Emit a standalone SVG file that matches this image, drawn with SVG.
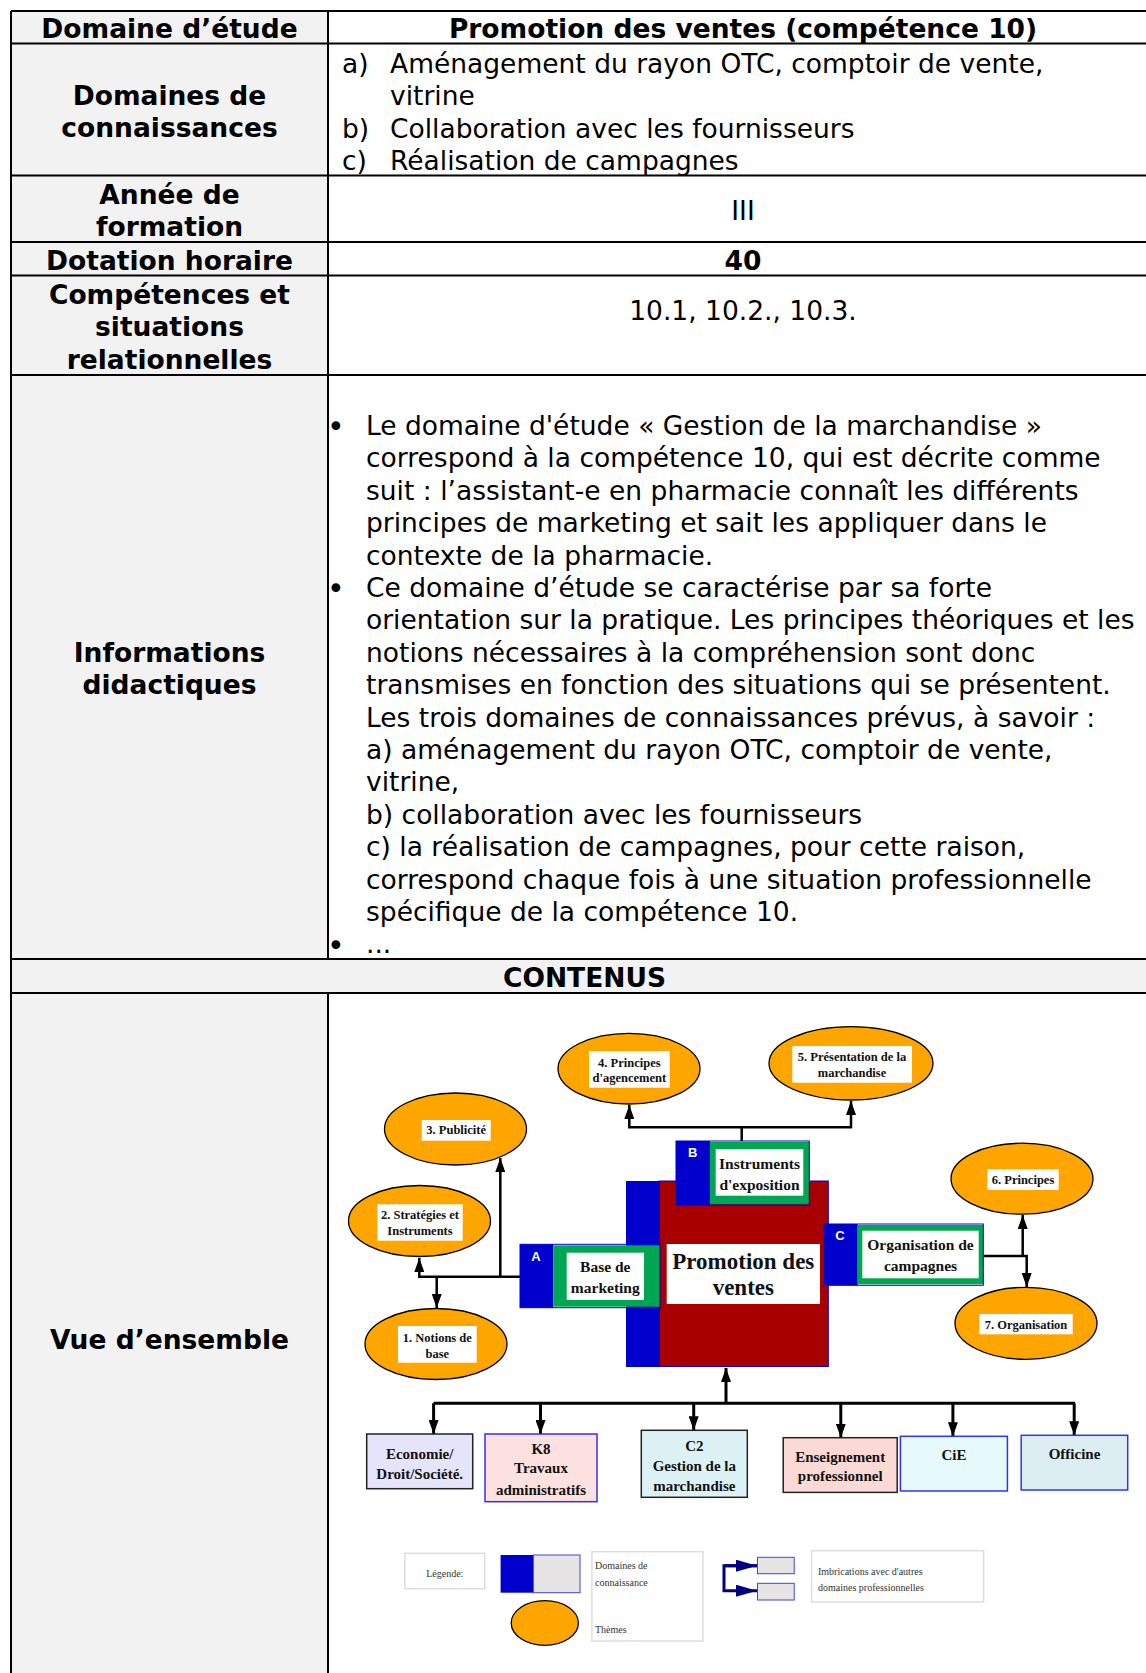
<svg xmlns="http://www.w3.org/2000/svg" width="1146" height="1673" viewBox="0 0 1146 1673">
<style>
.h{font-family:"DejaVu Sans",Verdana,sans-serif;font-size:26.5px;font-weight:bold;text-anchor:middle;fill:#000}
.t{font-family:"DejaVu Sans",Verdana,sans-serif;font-size:26.5px;fill:#000}
.tc{font-family:"DejaVu Sans",Verdana,sans-serif;font-size:26.5px;fill:#000;text-anchor:middle}
.bul{font-family:"DejaVu Sans",sans-serif;font-size:30px;fill:#000}
.grid{stroke:#000;stroke-width:2;fill:none}
.el{fill:#ffa500;stroke:#000;stroke-width:1.3}
.wb{fill:#fff}
.et{font-family:"Liberation Serif","Times New Roman",serif;font-weight:bold;font-size:12.5px;text-anchor:middle;fill:#111}
.bt{font-family:"Liberation Serif","Times New Roman",serif;font-weight:bold;font-size:15.5px;text-anchor:middle;fill:#111}
.ct{font-family:"Liberation Serif","Times New Roman",serif;font-weight:bold;font-size:23px;text-anchor:middle;fill:#111}
.ltr{font-family:"Liberation Sans",Arial,sans-serif;font-weight:bold;font-size:13px;text-anchor:middle;fill:#fff}
.blue{fill:#0000cc}
.green{fill:#00a651}
.conn{stroke:#000;stroke-width:2.5;fill:none}
.bus{stroke:#000;stroke-width:3;fill:none}
.ob{font-family:"Liberation Serif","Times New Roman",serif;font-weight:bold;font-size:15px;text-anchor:middle;fill:#111}
.lg{font-family:"Liberation Serif","Times New Roman",serif;font-size:10px;fill:#333}
.lbox{fill:#fff;stroke:#ddd;stroke-width:1.5}
</style>
<defs>
<marker id="ah" markerUnits="userSpaceOnUse" markerWidth="15" markerHeight="10" refX="14" refY="5" orient="auto">
<path d="M0,0 L14,5 L0,10 z" fill="#000"/>
</marker>
<marker id="ahn" markerUnits="userSpaceOnUse" markerWidth="22" markerHeight="12" refX="21" refY="6" orient="auto">
<path d="M0,0 L21,6 L0,12 z" fill="#000080"/>
</marker>
</defs>

<g id="table">
<rect x="11" y="11" width="317" height="948" fill="#f2f2f2"/>
<rect x="11" y="959" width="1135" height="34" fill="#f2f2f2"/>
<rect x="11" y="993" width="317" height="680" fill="#f2f2f2"/>
<path class="grid" d="M11,11 H1146 M11,43.5 H1146 M11,175.5 H1146 M11,242 H1146 M11,275.5 H1146 M11,375 H1146 M11,959 H1146 M11,993 H1146 M11,11 V1673 M328,11 V959 M328,993 V1673"/>
</g>

<g id="row-domaine">
<text class="h" x="169.5" y="38">Domaine d’étude</text>
<text class="h" x="743" y="38">Promotion des ventes (compétence 10)</text>
</g>

<g id="row-connaissances">
<text class="h" x="169.5" y="105">Domaines de</text>
<text class="h" x="169.5" y="137">connaissances</text>
<text class="t" x="342" y="73">a)</text>
<text class="t" x="390" y="73">Aménagement du rayon OTC, comptoir de vente,</text>
<text class="t" x="390" y="105.4">vitrine</text>
<text class="t" x="342" y="137.8">b)</text>
<text class="t" x="390" y="137.8">Collaboration avec les fournisseurs</text>
<text class="t" x="342" y="170.2">c)</text>
<text class="t" x="390" y="170.2">Réalisation de campagnes</text>
</g>

<g id="row-annee">
<text class="h" x="169.5" y="203.5">Année de</text>
<text class="h" x="169.5" y="235.5">formation</text>
<text class="tc" x="743" y="219.5">III</text>
</g>

<g id="row-dotation">
<text class="h" x="169.5" y="269.5">Dotation horaire</text>
<text class="h" x="743" y="269.5">40</text>
</g>

<g id="row-competences">
<text class="h" x="169.5" y="304">Compétences et</text>
<text class="h" x="169.5" y="336">situations</text>
<text class="h" x="169.5" y="368.5">relationnelles</text>
<text class="tc" x="743" y="320">10.1, 10.2., 10.3.</text>
</g>

<g id="row-informations">
<text class="h" x="169.5" y="662">Informations</text>
<text class="h" x="169.5" y="694">didactiques</text>
<text class="bul" x="327" y="436.5">•</text>
<text class="t" x="366" y="435">Le domaine d'étude « Gestion de la marchandise »</text>
<text class="t" x="366" y="467.4">correspond à la compétence 10, qui est décrite comme</text>
<text class="t" x="366" y="499.8">suit : l’assistant-e en pharmacie connaît les différents</text>
<text class="t" x="366" y="532.2">principes de marketing et sait les appliquer dans le</text>
<text class="t" x="366" y="564.6">contexte de la pharmacie.</text>
<text class="bul" x="327" y="599">•</text>
<text class="t" x="366" y="597">Ce domaine d’étude se caractérise par sa forte</text>
<text class="t" x="366" y="629.4">orientation sur la pratique. Les principes théoriques et les</text>
<text class="t" x="366" y="661.8">notions nécessaires à la compréhension sont donc</text>
<text class="t" x="366" y="694.2">transmises en fonction des situations qui se présentent.</text>
<text class="t" x="366" y="726.6">Les trois domaines de connaissances prévus, à savoir :</text>
<text class="t" x="366" y="759">a) aménagement du rayon OTC, comptoir de vente,</text>
<text class="t" x="366" y="791.4">vitrine,</text>
<text class="t" x="366" y="823.8">b) collaboration avec les fournisseurs</text>
<text class="t" x="366" y="856.2">c) la réalisation de campagnes, pour cette raison,</text>
<text class="t" x="366" y="888.6">correspond chaque fois à une situation professionnelle</text>
<text class="t" x="366" y="921">spécifique de la compétence 10.</text>
<text class="bul" x="327" y="956">•</text>
<text class="t" x="366" y="953">...</text>
</g>

<g id="row-contenus">
<text class="h" x="584.5" y="986.5">CONTENUS</text>
</g>

<g id="row-vue">
<text class="h" x="169.5" y="1348.5">Vue d’ensemble</text>
</g>

<g id="connectors">
<path class="conn" d="M520,1276.7 H419.3 V1258" marker-end="url(#ah)"/>
<path class="conn" d="M436.7,1276.7 V1308" marker-end="url(#ah)"/>
<path class="conn" d="M500.3,1276.7 V1158" marker-end="url(#ah)"/>
<path class="conn" d="M741.7,1141 V1127.3 H629.3 V1105" marker-end="url(#ah)"/>
<path class="conn" d="M741.7,1127.3 H851 V1101" marker-end="url(#ah)"/>
<path class="conn" d="M983.3,1256 H1026.7 V1287" marker-end="url(#ah)"/>
<path class="conn" d="M1022.7,1256 V1215" marker-end="url(#ah)"/>
<path class="bus" d="M726,1403.3 V1368" marker-end="url(#ah)"/>
<path class="bus" d="M433.6,1403.3 H1075"/>
<path class="bus" d="M433.6,1403.3 V1434" marker-end="url(#ah)"/>
<path class="bus" d="M540.5,1403.3 V1434" marker-end="url(#ah)"/>
<path class="bus" d="M693.7,1403.3 V1430.3" marker-end="url(#ah)"/>
<path class="bus" d="M840.8,1403.3 V1437.7" marker-end="url(#ah)"/>
<path class="bus" d="M952.9,1403.3 V1436.3" marker-end="url(#ah)"/>
<path class="bus" d="M1074.2,1403.3 V1435.3" marker-end="url(#ah)"/>
</g>

<g id="central">
<rect class="blue" x="626" y="1181" width="34" height="186"/>
<rect x="659.3" y="1181" width="169" height="185.5" fill="#a80000" stroke="#0000cc" stroke-width="1"/>
<rect class="wb" x="666.7" y="1244" width="153.3" height="60"/>
<text class="ct" x="743.3" y="1269.3">Promotion des</text>
<text class="ct" x="743.3" y="1295">ventes</text>
</g>

<g id="box-a">
<rect class="blue" x="520" y="1244.3" width="33.3" height="63.4"/>
<rect class="green" x="553.3" y="1245.3" width="106.7" height="61.4"/>
<rect x="520" y="1244.3" width="140" height="63.4" fill="none" stroke="#0000cc" stroke-width="1"/>
<rect class="wb" x="566.7" y="1252.7" width="77.3" height="47.3"/>
<text class="ltr" x="536" y="1261">A</text>
<text class="bt" x="605.3" y="1272.3">Base de</text>
<text class="bt" x="605.3" y="1293.3">marketing</text>
</g>

<g id="box-b">
<rect class="blue" x="676" y="1141" width="34" height="64"/>
<rect class="green" x="710" y="1142" width="99.3" height="62.3"/>
<rect x="676" y="1141" width="133.3" height="64" fill="none" stroke="#0000cc" stroke-width="1"/>
<rect class="wb" x="715.7" y="1149" width="87.6" height="46.7"/>
<text class="ltr" x="692.7" y="1156.5">B</text>
<text class="bt" x="759.5" y="1169.3">Instruments</text>
<text class="bt" x="759.5" y="1190">d'exposition</text>
</g>

<g id="box-c">
<rect class="blue" x="824.3" y="1224" width="33.4" height="61.3"/>
<rect class="green" x="857.7" y="1225" width="125.6" height="59.3"/>
<rect x="824.3" y="1224" width="159" height="61.3" fill="none" stroke="#0000cc" stroke-width="1"/>
<rect class="wb" x="862.3" y="1230.7" width="116.4" height="47.6"/>
<text class="ltr" x="840" y="1240">C</text>
<text class="bt" x="920.5" y="1250">Organisation de</text>
<text class="bt" x="920.5" y="1270.7">campagnes</text>
</g>

<g id="theme-1">
<ellipse class="el" cx="436" cy="1344" rx="71" ry="35.5"/>
<rect class="wb" x="398" y="1326" width="78.7" height="36.7"/>
<text class="et" x="437.3" y="1342.3">1. Notions de</text>
<text class="et" x="437.3" y="1357.7">base</text>
</g>
<g id="theme-2">
<ellipse class="el" cx="419.5" cy="1221" rx="71" ry="35.5"/>
<rect class="wb" x="377.3" y="1204.3" width="85.4" height="36.4"/>
<text class="et" x="420" y="1219">2. Stratégies et</text>
<text class="et" x="420" y="1235">Instruments</text>
</g>
<g id="theme-3">
<ellipse class="el" cx="455.5" cy="1129" rx="71" ry="36"/>
<rect class="wb" x="421.7" y="1120" width="69" height="20.7"/>
<text class="et" x="456.2" y="1134.3">3. Publicité</text>
</g>
<g id="theme-4">
<ellipse class="el" cx="629" cy="1068.7" rx="71" ry="35.3"/>
<rect class="wb" x="589" y="1051" width="80.7" height="36.7"/>
<text class="et" x="629.3" y="1067">4. Principes</text>
<text class="et" x="629.3" y="1081.7">d'agencement</text>
</g>
<g id="theme-5">
<ellipse class="el" cx="851" cy="1063.3" rx="82" ry="36.7"/>
<rect class="wb" x="792.3" y="1046" width="119.7" height="36.7"/>
<text class="et" x="852" y="1060.7">5. Présentation de la</text>
<text class="et" x="852" y="1076.7">marchandise</text>
</g>
<g id="theme-6">
<ellipse class="el" cx="1022" cy="1178.7" rx="71" ry="35.5"/>
<rect class="wb" x="987.3" y="1169.3" width="71.4" height="20.7"/>
<text class="et" x="1023" y="1184">6. Principes</text>
</g>
<g id="theme-7">
<ellipse class="el" cx="1026" cy="1323.3" rx="71" ry="36"/>
<rect class="wb" x="979.3" y="1314" width="93.4" height="20.3"/>
<text class="et" x="1026" y="1329">7. Organisation</text>
</g>

<g id="other-1">
<rect x="366.7" y="1434" width="106" height="54.7" fill="#e4e4fa" stroke="#222" stroke-width="1.5"/>
<text class="ob" x="419.7" y="1458.7">Economie/</text>
<text class="ob" x="419.7" y="1479.3">Droit/Société.</text>
</g>
<g id="other-2">
<rect x="485" y="1434" width="112" height="67.7" fill="#fde0e0" stroke="#3333dd" stroke-width="1.5"/>
<text class="ob" x="541" y="1454">K8</text>
<text class="ob" x="541" y="1473.3">Travaux</text>
<text class="ob" x="541" y="1495">administratifs</text>
</g>
<g id="other-3">
<rect x="641.3" y="1430.3" width="106" height="67" fill="#dcf2f4" stroke="#222" stroke-width="1.5"/>
<text class="ob" x="694.3" y="1450.7">C2</text>
<text class="ob" x="694.3" y="1471">Gestion de la</text>
<text class="ob" x="694.3" y="1491">marchandise</text>
</g>
<g id="other-4">
<rect x="783.2" y="1437.7" width="114" height="54.7" fill="#fbd9d5" stroke="#222" stroke-width="1.5"/>
<text class="ob" x="840.2" y="1461.7">Enseignement</text>
<text class="ob" x="840.2" y="1480.7">professionnel</text>
</g>
<g id="other-5">
<rect x="900.4" y="1436.3" width="107" height="54.7" fill="#e6fafc" stroke="#3333ee" stroke-width="1.5"/>
<text class="ob" x="954" y="1460">CiE</text>
</g>
<g id="other-6">
<rect x="1021.2" y="1435.3" width="106.5" height="54.7" fill="#dceef2" stroke="#3333ee" stroke-width="1.5"/>
<text class="ob" x="1074.5" y="1459.3">Officine</text>
</g>

<g id="legend">
<rect class="lbox" x="404.9" y="1553.3" width="79.8" height="35.4"/>
<text class="lg" x="444.8" y="1576.7" text-anchor="middle">Légende:</text>
<rect class="blue" x="500.6" y="1555" width="32.8" height="37.7"/>
<rect x="533.4" y="1555" width="46.6" height="37.7" fill="#e6e4e4" stroke="#4444dd" stroke-width="1"/>
<ellipse class="el" cx="544.8" cy="1623" rx="33.6" ry="22.3"/>
<rect class="lbox" x="591.9" y="1551.7" width="111" height="89.3"/>
<text class="lg" x="595" y="1569.3">Domaines de</text>
<text class="lg" x="595" y="1586">connaissance</text>
<text class="lg" x="595" y="1632.7">Thèmes</text>
<path d="M757,1565.7 H724 V1590.7 H757" stroke="#000080" stroke-width="3" fill="none" marker-end="url(#ahn)"/>
<path d="M724,1565.7 H757" stroke="#000080" stroke-width="3" fill="none" marker-end="url(#ahn)"/>
<rect x="757.5" y="1557.3" width="36.7" height="16.4" fill="#e6e4e4" stroke="#4444dd" stroke-width="1"/>
<rect x="757.5" y="1583.3" width="36.7" height="16.7" fill="#e6e4e4" stroke="#4444dd" stroke-width="1"/>
<rect class="lbox" x="811.6" y="1550.7" width="172" height="51.3"/>
<text class="lg" x="818" y="1575">Imbrications avec d'autres</text>
<text class="lg" x="818" y="1590.7">domaines professionnelles</text>
</g>
</svg>
